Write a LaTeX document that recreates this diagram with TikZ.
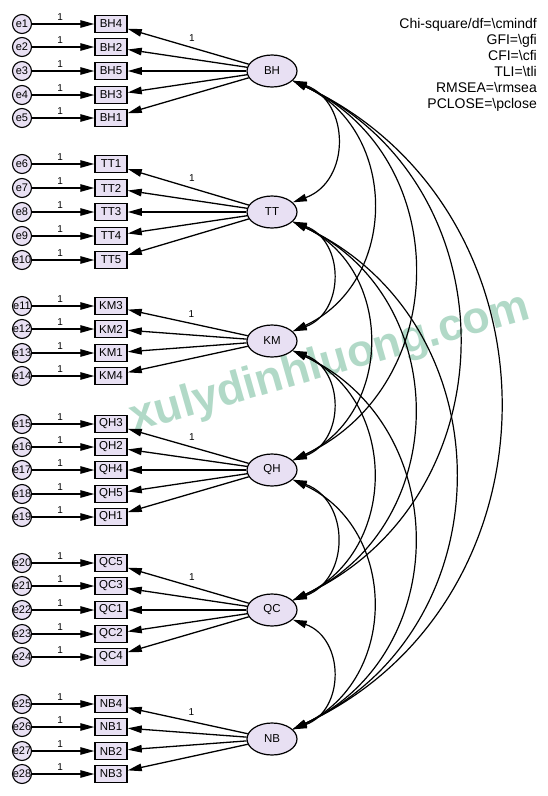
\documentclass[tikz,border=0pt]{standalone}
\usepackage{fontspec}
\setmainfont{Liberation Sans}
\usetikzlibrary{arrows.meta,shapes.geometric}
\definecolor{lav}{RGB}{232,224,243}
\definecolor{wmgreen}{RGB}{125,192,162}

\begin{document}
\begin{tikzpicture}[x=1pt, y=-1pt, >={Triangle[length=14pt,width=7.5pt]},
  err/.style={circle, draw, fill=lav, line width=1.1pt, minimum size=19pt,
    inner xsep=-2pt, inner ysep=0pt, font=\fontsize{11}{11}\selectfont},
  obs/.style={rectangle, draw, fill=lav, line width=1.5pt, minimum width=32pt,
    minimum height=17pt, inner sep=0pt, font=\fontsize{11.5}{12}\selectfont},
  lat/.style={ellipse, draw, fill=lav, line width=1.2pt, minimum width=50pt,
    minimum height=32pt, inner sep=0pt, font=\fontsize{11.5}{12}\selectfont},
  load/.style={->, line width=1.3pt},
  cov/.style={<->, line width=1.2pt, bend left=65, looseness=1.2},
  one/.style={font=\fontsize{10}{10}\selectfont, inner sep=1pt}]
  \useasboundingbox (0,0) rectangle (547,796);
  % watermark
  \node[text=wmgreen, opacity=0.6, rotate=16, font=\fontsize{45}{45}\bfseries\selectfont]
    (wm) at (330,364) {xulydinhluong.com};
  % latent factors
  \foreach \f/\y in {BH/71, TT/212, KM/341, QH/470, QC/610, NB/739}
    \node[lat] (\f) at (272,\y) {\f};
  % indicators, errors and loadings
  \foreach \v/\e/\y/\f in {BH4/1/24/BH, BH2/2/47/BH, BH5/3/71/BH, BH3/4/95/BH, BH1/5/118/BH,
      TT1/6/164/TT, TT2/7/188/TT, TT3/8/212/TT, TT4/9/236/TT, TT5/10/260/TT,
      KM3/11/306/KM, KM2/12/329/KM, KM1/13/353/KM, KM4/14/376/KM,
      QH3/15/424/QH, QH2/16/447/QH, QH4/17/470/QH, QH5/18/494/QH, QH1/19/517/QH,
      QC5/20/563/QC, QC3/21/586/QC, QC1/22/610/QC, QC2/23/634/QC, QC4/24/657/QC,
      NB4/25/704/NB, NB1/26/727/NB, NB2/27/751/NB, NB3/28/774/NB} {
    \node[obs] (\v) at (111,\y) {\v};
    \node[err] (e\e) at (22,\y) {e\e};
    \draw[load] (e\e) -- (\v) node[one, pos=0.45, above=2pt] (o\e) {1};
    \draw[load] (\f) -- (\v);
  }
  % fixed loadings
  \foreach \f/\v in {BH/BH4, TT/TT1, KM/KM3, QH/QH3, QC/QC5, NB/NB4}
    \path (\f) -- (\v) node[one, pos=0.47, above=5pt] (l\f) {1};
  % covariances
  \foreach \a/\b in {BH/TT, TT/KM, KM/QH, QH/QC, QC/NB}
    \draw[cov, bend left=70, looseness=1.3] (\a.-25) to (\b.25);
  \foreach \a/\b in {BH/KM, BH/QH, BH/QC, BH/NB, TT/QH, TT/QC, TT/NB, KM/QC, KM/NB, QH/NB}
    \draw[cov] (\a.-25) to (\b.25);
  % fit indices
  \node[font=\fontsize{14}{16}\selectfont, align=right, anchor=north east, inner sep=0pt]
    (fit) at (537,18) {Chi-square/df=\textbackslash cmindf\\GFI=\textbackslash gfi\\
    CFI=\textbackslash cfi\\TLI=\textbackslash tli\\RMSEA=\textbackslash rmsea\\
    PCLOSE=\textbackslash pclose};
\end{tikzpicture}
\end{document}
